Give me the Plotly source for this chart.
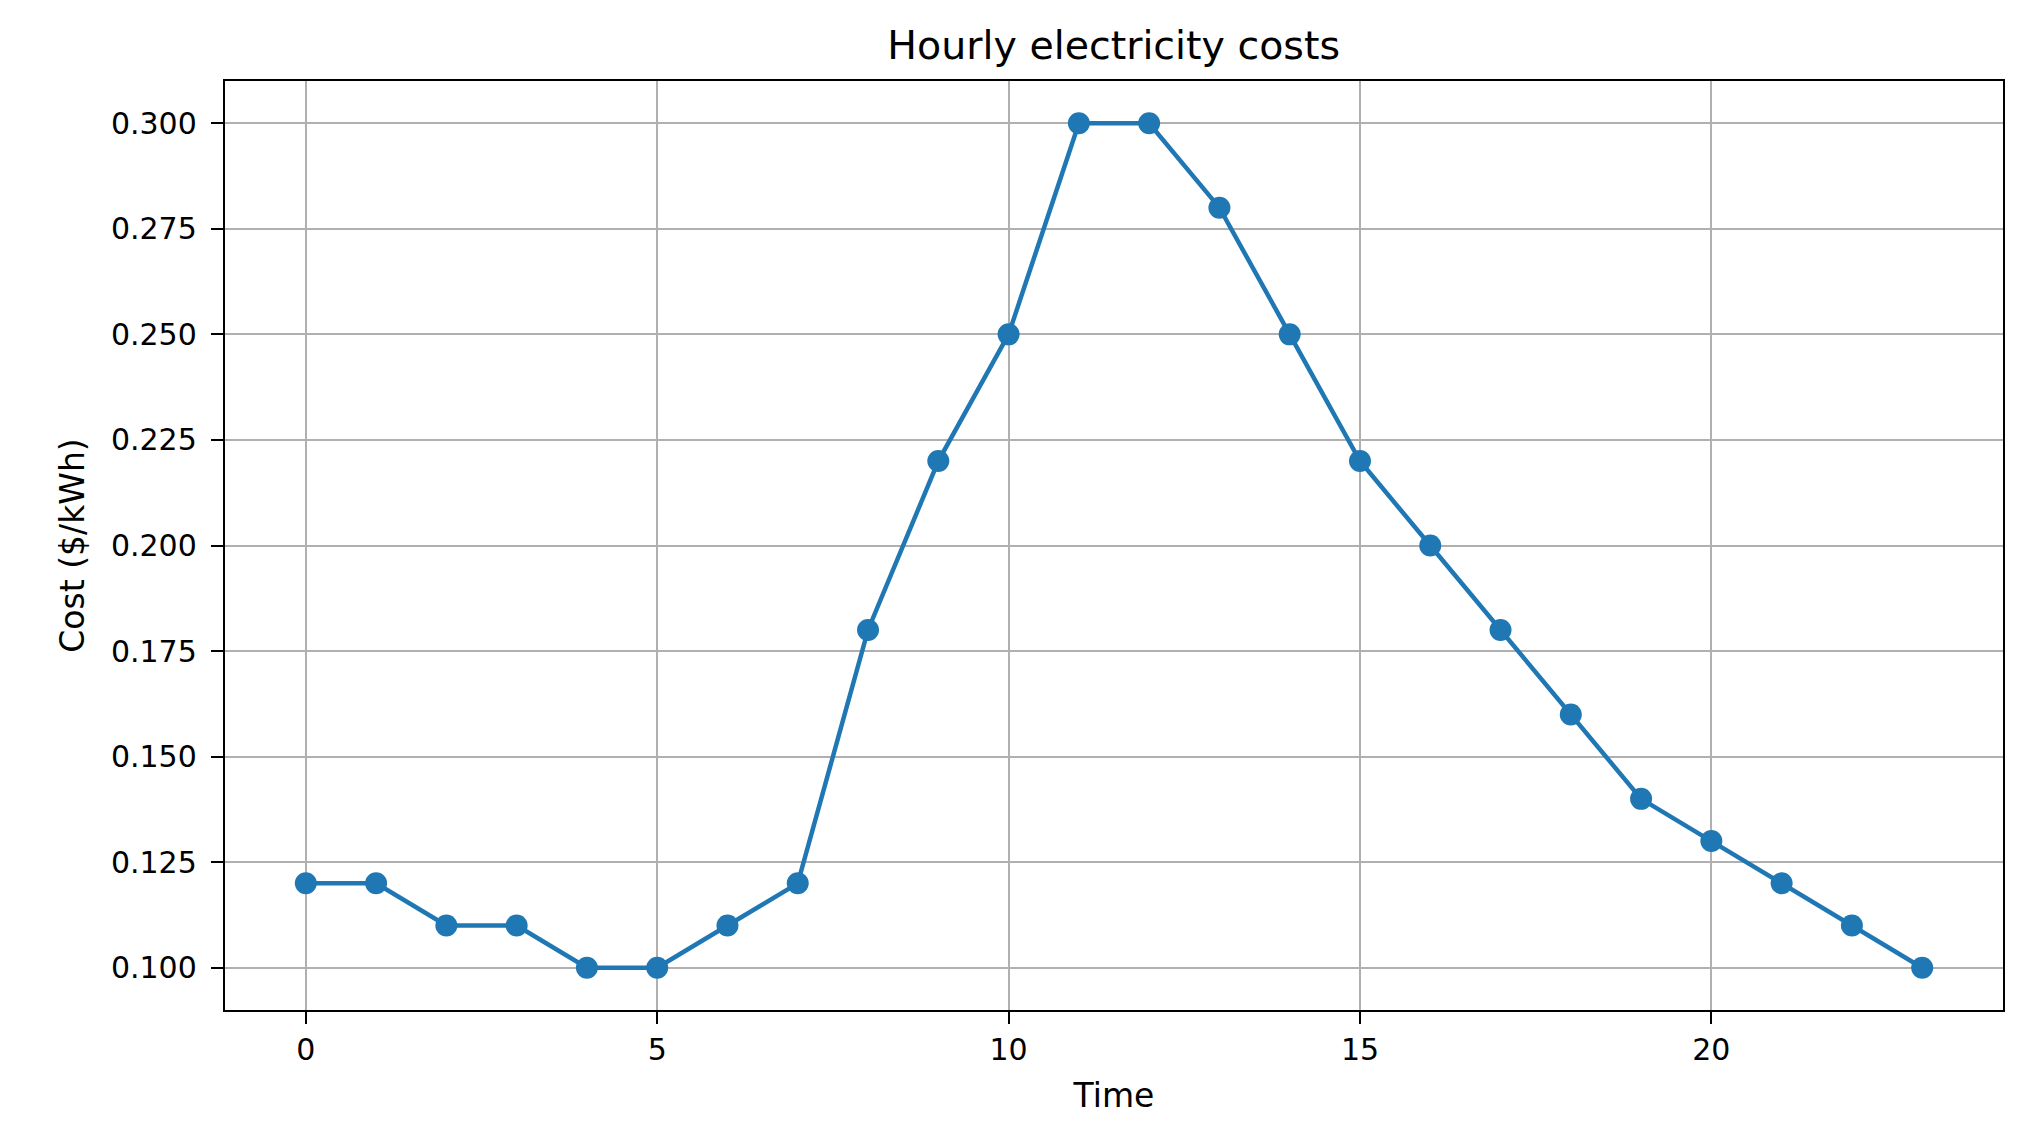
import plotly.graph_objects as go

hours = list(range(24))
costs = [0.12, 0.12, 0.11, 0.11, 0.10, 0.10, 0.11, 0.12, 0.18, 0.22, 0.25, 0.30,
         0.30, 0.28, 0.25, 0.22, 0.20, 0.18, 0.16, 0.14, 0.13, 0.12, 0.11, 0.10]
title_text = "Hourly electricity costs"
x_label = "Time"
y_label = "Cost ($/kWh)"
x_ticks = [0, 5, 10, 15, 20]
y_ticks = [0.100, 0.125, 0.150, 0.175, 0.200, 0.225, 0.250, 0.275, 0.300]

FONT = "DejaVu Sans"

fig = go.Figure()
fig.add_trace(go.Scatter(
    x=hours, y=costs, mode="lines+markers",
    line=dict(color="#1f77b4", width=4.5),
    marker=dict(color="#1f77b4", size=22),
    showlegend=False,
))

axis_common = dict(
    showline=True, linecolor="black", linewidth=2.4, mirror=True,
    ticks="outside", ticklen=12, tickwidth=2.4, tickcolor="black",
    showgrid=True, gridcolor="#b0b0b0", gridwidth=2.3,
    zeroline=False,
    tickfont=dict(family=FONT, size=30, color="black"),
)

fig.update_layout(
    width=2040, height=1146,
    margin=dict(l=217, r=45, t=73, b=144),
    paper_bgcolor="white", plot_bgcolor="white",
    font=dict(family=FONT, color="black"),
    title=dict(text=title_text, x=0.542, xanchor="center", y=1 - 37 / 1146,
               yanchor="middle", yref="container",
               font=dict(family=FONT, size=39.5, color="black")),
    xaxis=dict(range=[-1.15, 24.15], tickvals=x_ticks,
               ticktext=[str(v) for v in x_ticks],
               title=dict(text=x_label, font=dict(family=FONT, size=33), standoff=18),
               **axis_common),
    yaxis=dict(range=[0.09, 0.31], tickvals=y_ticks,
               ticktext=[f"{v:.3f}" for v in y_ticks],
               ticklabelstandoff=8,
               title=dict(text=y_label, font=dict(family=FONT, size=33), standoff=16),
               **axis_common),
)

fig.write_html("out.html")
